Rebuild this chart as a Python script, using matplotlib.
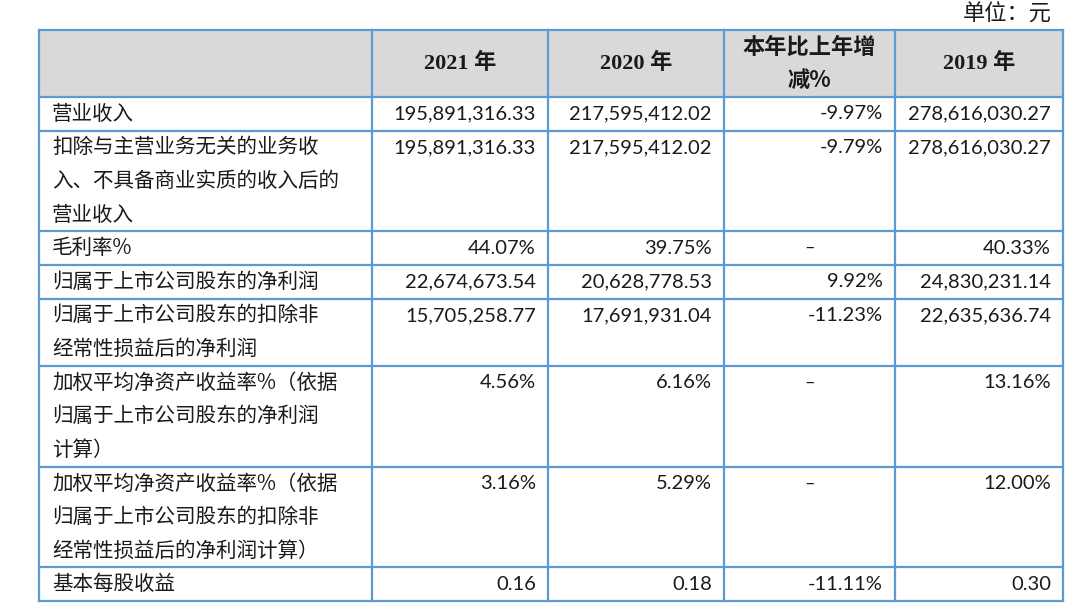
import matplotlib.pyplot as plt
from matplotlib.patches import Rectangle

# table content
unit_label = "单位：元"
col_headers = ["2021 年", "2020 年", "本年比上年增\n减%", "2019 年"]
row_labels = [
    "营业收入",
    "扣除与主营业务无关的业务收\n入、不具备商业实质的收入后的\n营业收入",
    "毛利率%",
    "归属于上市公司股东的净利润",
    "归属于上市公司股东的扣除非\n经常性损益后的净利润",
    "加权平均净资产收益率%（依据\n归属于上市公司股东的净利润\n计算）",
    "加权平均净资产收益率%（依据\n归属于上市公司股东的扣除非\n经常性损益后的净利润计算）",
    "基本每股收益",
]
vals_2021 = ["195,891,316.33", "195,891,316.33", "44.07%", "22,674,673.54",
             "15,705,258.77", "4.56%", "3.16%", "0.16"]
vals_2020 = ["217,595,412.02", "217,595,412.02", "39.75%", "20,628,778.53",
             "17,691,931.04", "6.16%", "5.29%", "0.18"]
vals_change = ["-9.97%", "-9.79%", "–", "9.92%", "-11.23%", "–", "–", "-11.11%"]
vals_2019 = ["278,616,030.27", "278,616,030.27", "40.33%", "24,830,231.14",
             "22,635,636.74", "13.16%", "12.00%", "0.30"]

# layout (pixels)
W, H = 1079, 615
col_x = [39, 372, 548, 724, 895, 1063]
top = 30
header_h = 67
line_h = 33.6
border = "#5B9BD5"
header_fill = "#D9D9D9"
ink = "#1a1a1a"

cjk = ["Noto Sans CJK SC", "DejaVu Sans"]
num_font = ["Lato", "Noto Sans CJK SC"]
head_font = ["Liberation Serif", "Noto Sans CJK SC"]

fig = plt.figure(figsize=(W / 100, H / 100), dpi=100)
ax = fig.add_axes([0, 0, 1, 1])
ax.set_xlim(0, W)
ax.set_ylim(H, 0)
ax.axis("off")

# row edges
n_lines = [lbl.count("\n") + 1 for lbl in row_labels]
edges = [top, top + header_h]
for n in n_lines:
    edges.append(edges[-1] + n * line_h)
bottom = edges[-1]

ax.add_patch(Rectangle((col_x[0], top), col_x[-1] - col_x[0], header_h,
                       facecolor=header_fill, edgecolor="none", zorder=0))

for y in edges:
    ax.plot([col_x[0], col_x[-1]], [y, y], color=border, lw=1.6, zorder=2,
            solid_capstyle="projecting")
for x in col_x:
    ax.plot([x, x], [top, bottom], color=border, lw=1.6, zorder=2,
            solid_capstyle="projecting")

ax.text(1052, 14, unit_label, ha="right", va="center", fontsize=16,
        family=cjk, color=ink)

# header
for i, h in enumerate(col_headers):
    cx = (col_x[i + 1] + col_x[i + 2]) / 2
    lines = h.split("\n")
    if len(lines) == 1:
        ax.text(cx, top + header_h / 2, h, ha="center", va="center",
                fontsize=16, fontweight="bold", family=head_font, color=ink)
    else:
        for k, ln in enumerate(lines):
            ax.text(cx, top + 17 + k * line_h, ln, ha="center", va="center",
                    fontsize=16, fontweight="bold", family=cjk, color=ink)

# body
columns = [vals_2021, vals_2020, vals_change, vals_2019]
for r, lbl in enumerate(row_labels):
    y0 = edges[r + 1] + line_h / 2
    for k, ln in enumerate(lbl.split("\n")):
        ax.text(52, y0 + k * line_h, ln, ha="left", va="center",
                fontsize=14.8, family=cjk, color=ink)
    for c, vals in enumerate(columns):
        v = vals[r]
        if v == "–":
            ax.text((col_x[c + 1] + col_x[c + 2]) / 2, y0, v, ha="center",
                    va="center", fontsize=13, family=num_font, color=ink)
        else:
            ax.text(col_x[c + 2] - 12, y0, v, ha="right", va="center",
                    fontsize=14.5, family=num_font, color=ink)

fig.savefig("out.png", dpi=100)
